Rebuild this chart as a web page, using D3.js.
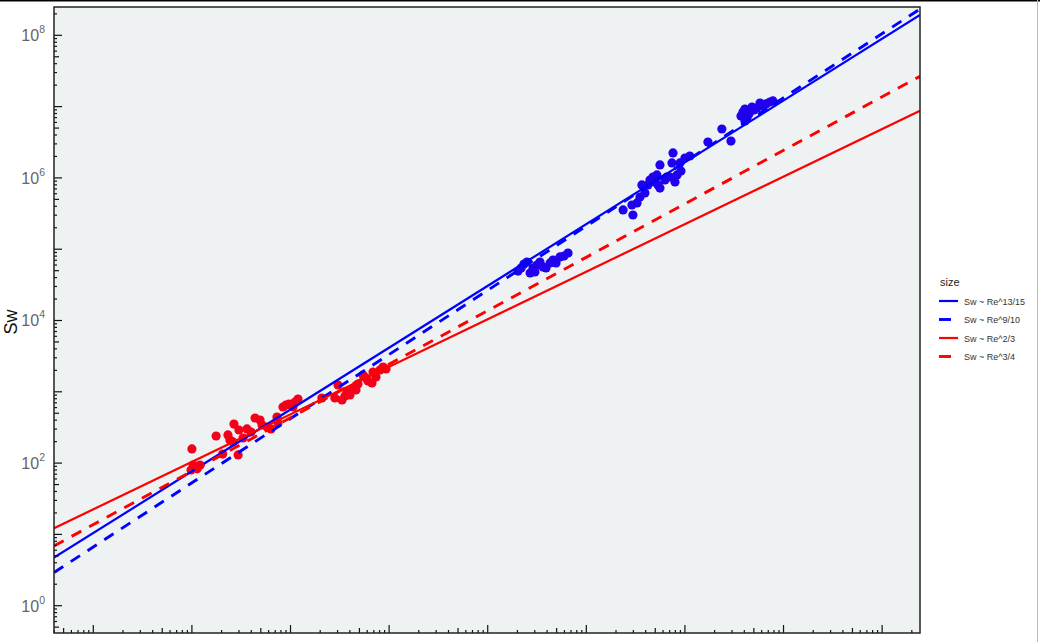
<!DOCTYPE html>
<html><head><meta charset="utf-8">
<script src="https://cdn.jsdelivr.net/npm/d3@7"></script>
<style>body{margin:0;background:#fff}svg{display:block;font-family:"Liberation Sans",Arial,sans-serif}</style>
</head><body><svg id="c" width="1040" height="642"></svg>
<script>
// Red group (Re, Sw)
const redRe = [100,103,98,121,113,176,205,232,243,261,267,300,294,362,437,491,514,578,634,729,747,839,1059,1111,1191,966,2080,2818,3032,3329,3741,4303,4613,5433,5821,6699,6866,8085,8672,9307,6105,3571,4831,4009,7362,330,398,899];
const redSw = [158,94,80,94,83,240,134,248,211,198,353,291,130,301,429,402,342,321,301,443,365,612,612,719,793,674,818,818,1245,767,994,1130,1059,1721,1563,1328,1896,2023,2228,2089,1417,873,1286,902,1614,225,273,653];
// Blue group (Re, Sw)
const blueRe = [2.03e5,2.33e5,2.50e5,2.69e5,2.88e5,3.16e5,3.39e5,3.64e5,3.90e5,4.29e5,4.59e5,4.93e5,5.41e5,5.94e5,6.52e5,3.01e5,2.18e5,
  2.36e6,2.90e6,2.97e6,3.50e6,3.66e6,3.93e6,4.22e6,4.42e6,4.74e6,4.97e6,5.20e6,5.58e6,5.58e6,6.27e6,6.57e6,7.05e6,7.39e6,7.57e6,7.93e6,8.32e6,8.91e6,1.00e7,1.12e7,1.71e7,2.37e7,2.93e7,3.27e6,5.33e6,9.12e6,
  3.88e7,4.26e7,4.79e7,5.38e7,5.77e7,7.28e7,7.81e7,4.06e7,4.46e7,5.01e7,6.18e7,6.64e7,3.70e7,4.06e7];
const blueSw = [4.94e4,6.20e4,6.61e4,4.64e4,5.45e4,6.00e4,6.61e4,5.63e4,5.45e4,6.40e4,7.06e4,6.40e4,7.78e4,8.03e4,8.85e4,4.79e4,5.45e4,
  3.55e5,4.17e5,3.02e5,5.40e5,7.96e5,6.14e5,7.96e5,9.35e5,1.03e6,8.76e5,1.10e6,7.21e5,1.52e6,9.35e5,1.03e6,1.03e6,1.62e6,2.24e6,8.76e5,1.10e6,1.62e6,1.90e6,2.03e6,3.19e6,4.85e6,3.29e6,4.45e5,7.96e5,1.25e6,
  8.40e6,6.92e6,9.87e6,9.55e6,1.12e7,1.16e7,1.20e7,9.25e6,7.88e6,8.96e6,1.02e7,1.09e7,7.38e6,6.28e6];
// Fitted power laws Sw = coef * Re^exponent
const fitLabels = ["Sw ~ Re^13/15","Sw ~ Re^9/10","Sw ~ Re^2/3","Sw ~ Re^3/4"];
const fitExponents = [13/15, 9/10, 2/3, 3/4];
const fitCoefs = [1.42, 0.839, 4.84, 2.44];
const fitColors = ["#0000ff","#0000ff","#ff0000","#ff0000"];
const fitDashed = [false,true,false,true];
const yTickLabels = ["0","2","4","6","8"];
const legendTitle = "size";
const yTitle = "Sw";

const svg = d3.select("#c");
const L=54,R=920,T=7,B=633;
const x = d3.scaleLog().domain([Math.pow(10,0.6014), Math.pow(10,9.384)]).range([L,R]);
const y = d3.scaleLog().domain([Math.pow(10,-0.383), Math.pow(10,8.397)]).range([B,T]);

// frame lines
svg.append("line").attr("x1",0).attr("x2",1040).attr("y1",0.75).attr("y2",0.75).attr("stroke","#000").attr("stroke-width",1.5);
svg.append("line").attr("x1",1037.5).attr("x2",1037.5).attr("y1",0).attr("y2",642).attr("stroke","#bbb").attr("stroke-width",1);

svg.append("rect").attr("x",L).attr("y",T).attr("width",R-L).attr("height",B-T).attr("fill","#eef2f3");
svg.append("clipPath").attr("id","clip").append("rect").attr("x",L).attr("y",T).attr("width",R-L).attr("height",B-T);
const g = svg.append("g").attr("clip-path","url(#clip)");

// points
g.selectAll("circle.r").data(redRe.map((v,i)=>[v,redSw[i]])).join("circle")
  .attr("cx",d=>x(d[0])).attr("cy",d=>y(d[1])).attr("r",4.6).attr("fill","#f3001a");
g.selectAll("circle.b").data(blueRe.map((v,i)=>[v,blueSw[i]])).join("circle")
  .attr("cx",d=>x(d[0])).attr("cy",d=>y(d[1])).attr("r",4.6).attr("fill","#2000ee");

// fit lines
const [x0,x1]=x.domain();
fitExponents.forEach((b,i)=>{
  const f = v=>fitCoefs[i]*Math.pow(v,b);
  g.append("line").attr("x1",x(x0)).attr("y1",y(f(x0))).attr("x2",x(x1)).attr("y2",y(f(x1)))
   .attr("stroke",fitColors[i]).attr("stroke-width",fitDashed[i]?2.9:2.2)
   .attr("stroke-dasharray",fitDashed[i]?"11,9":null);
});

// ticks
function tickVals(sc){
  const [a,b]=sc.domain(); const out=[];
  for(let d=Math.floor(Math.log10(a));d<=Math.ceil(Math.log10(b));d++){
    for(let k=1;k<=9;k++){const v=k*Math.pow(10,d); if(v>=a&&v<=b) out.push({v,k});}
  }
  return out;
}
const tl = k=> k===1?8:(k===5?5:3);
svg.append("g").selectAll("line").data(tickVals(x)).join("line")
  .attr("x1",d=>x(d.v)).attr("x2",d=>x(d.v)).attr("y1",B).attr("y2",d=>B-tl(d.k))
  .attr("stroke","#111").attr("stroke-width",1.2);
svg.append("g").selectAll("line").data(tickVals(y)).join("line")
  .attr("y1",d=>y(d.v)).attr("y2",d=>y(d.v)).attr("x1",L).attr("x2",d=>L+tl(d.k))
  .attr("stroke","#111").attr("stroke-width",1.2);

// y labels
const yl = svg.append("g");
yTickLabels.forEach(p=>{
  const t = yl.append("text").attr("x",45).attr("y",y(Math.pow(10,+p))+6).attr("text-anchor","end")
    .attr("fill","#666").attr("font-size",16);
  t.append("tspan").text("10");
  t.append("tspan").attr("dy",-8).attr("font-size",10.5).text(p);
});
svg.append("text").attr("transform","translate(17,322) rotate(-90)").attr("text-anchor","middle")
  .attr("font-size",18).attr("fill","#111").text(yTitle);

// panel border
svg.append("rect").attr("x",L).attr("y",T).attr("width",R-L).attr("height",B-T).attr("fill","none")
  .attr("stroke","#222").attr("stroke-width",1.5);

// legend
const lg = svg.append("g");
lg.append("text").attr("x",940).attr("y",286).attr("font-size",11).attr("fill","#222").text(legendTitle);
const ly0=301, ldy=18.5;
fitLabels.forEach((lab,i)=>{
  const yy = ly0+i*ldy;
  lg.append("line").attr("x1",939).attr("x2",958).attr("y1",yy).attr("y2",yy)
    .attr("stroke",fitColors[i]).attr("stroke-width",fitDashed[i]?2.9:2.2).attr("stroke-dasharray",fitDashed[i]?"12,9":null);
  lg.append("text").attr("x",964).attr("y",yy+3.5).attr("font-size",9).attr("fill","#333").text(lab);
});
</script></body></html>
